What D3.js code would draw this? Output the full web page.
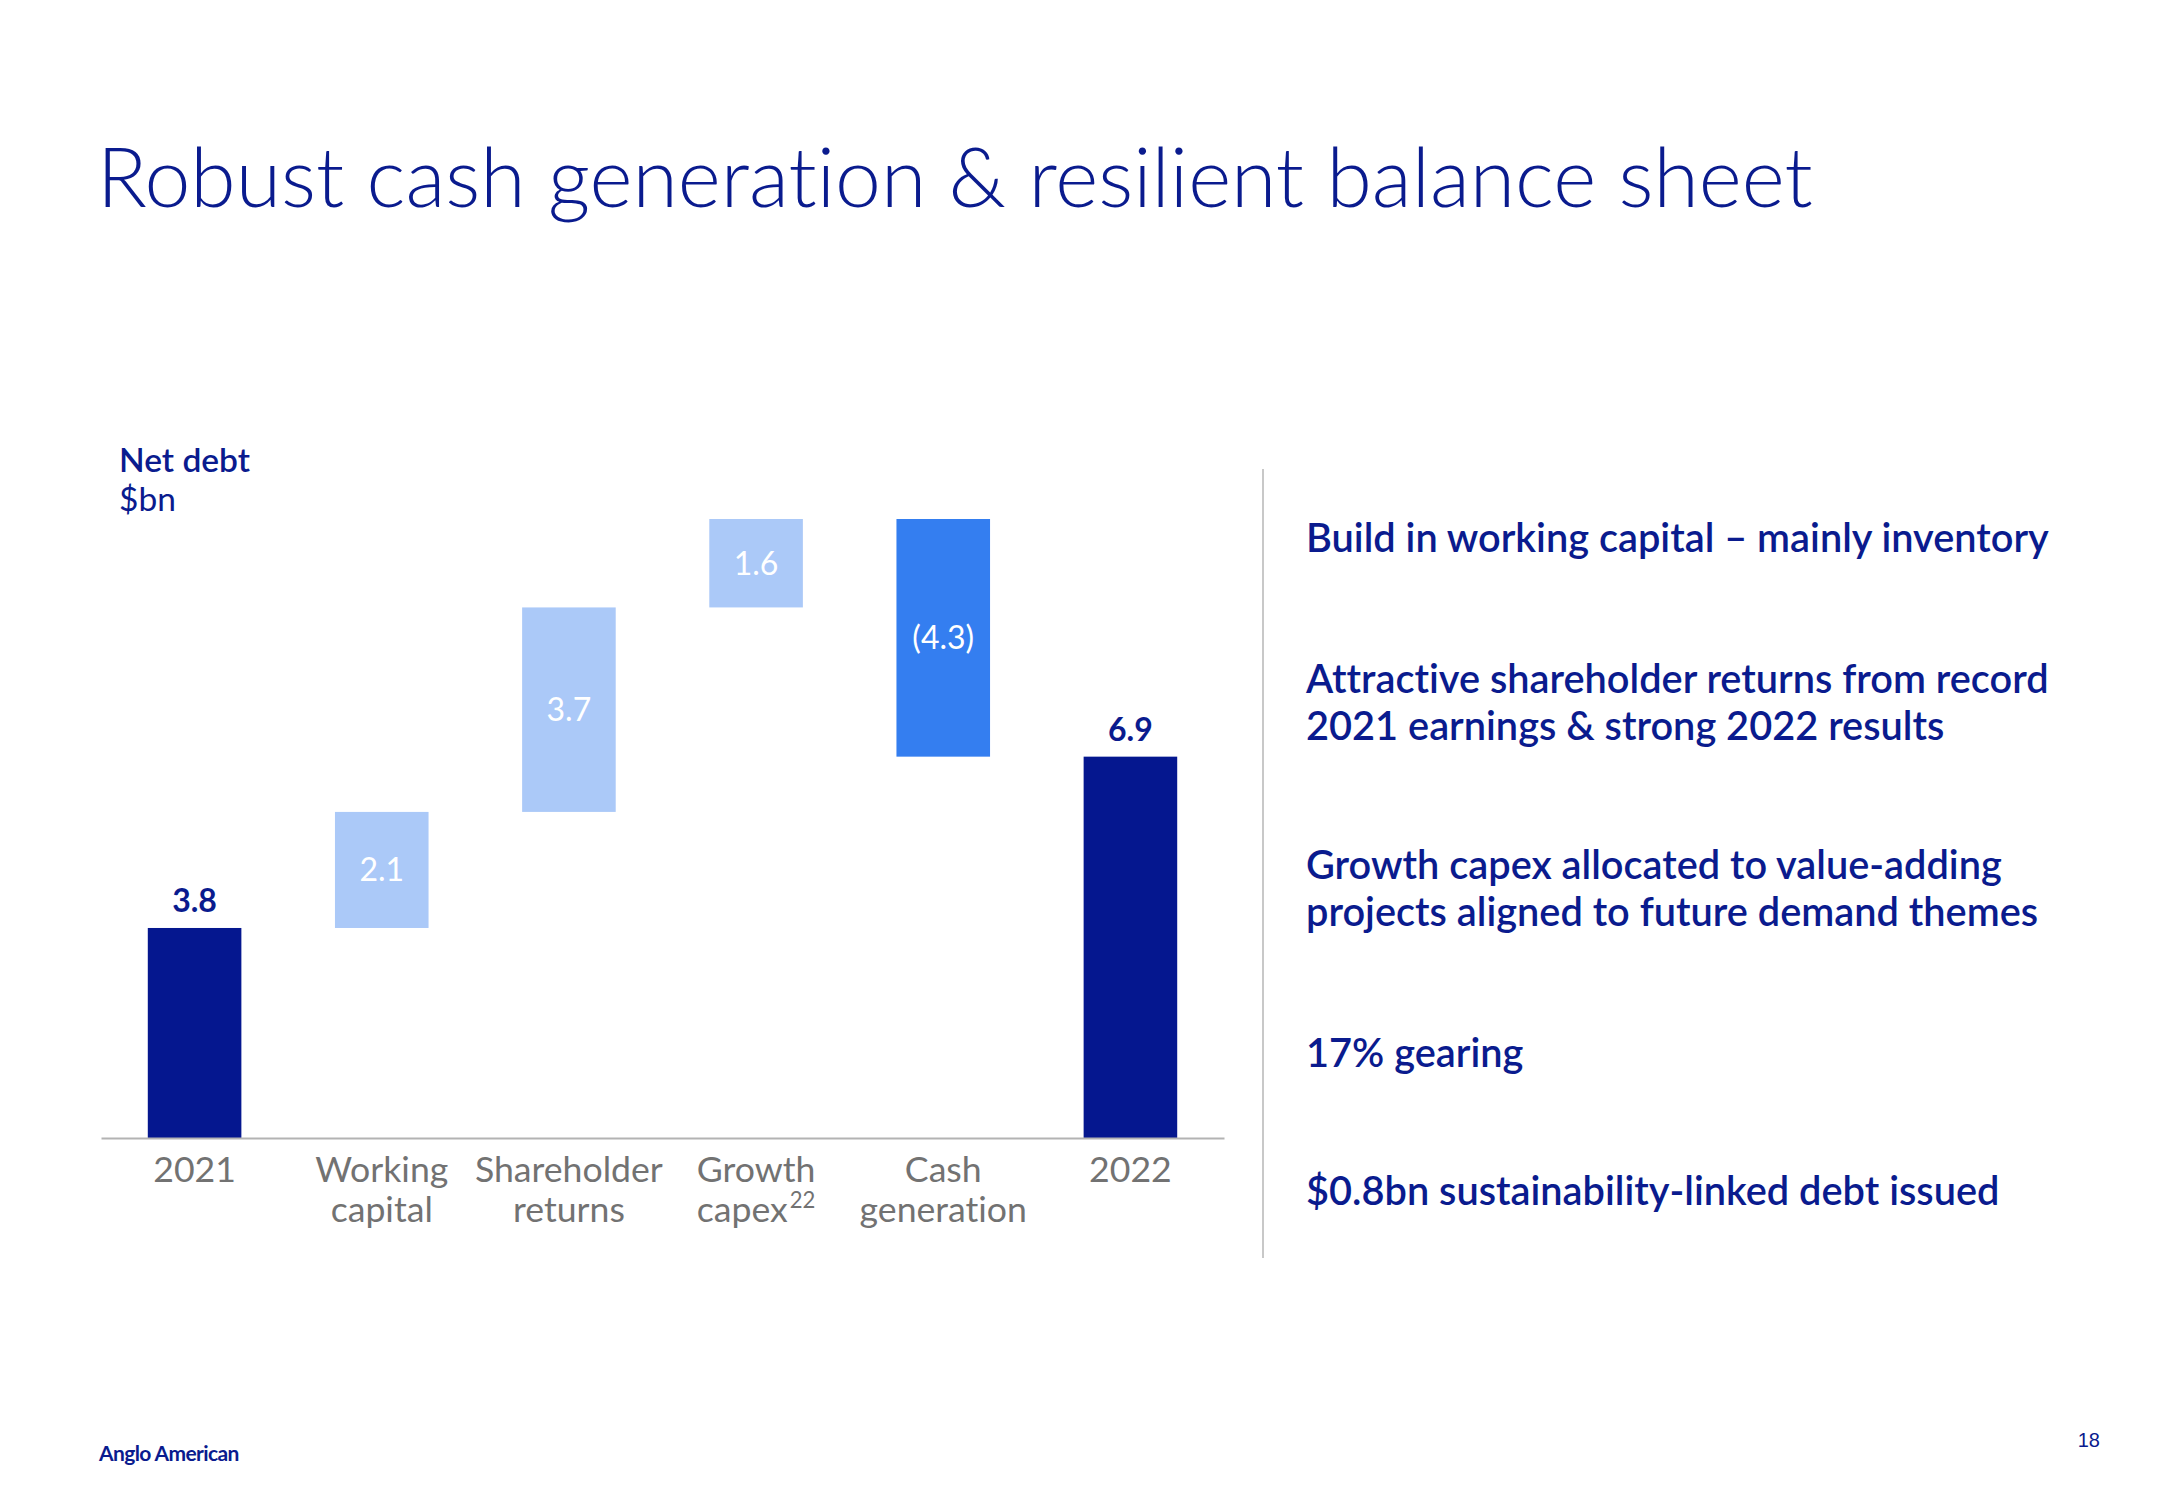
<!DOCTYPE html>
<html>
<head>
<meta charset="utf-8">
<script src="https://cdn.jsdelivr.net/npm/d3@7"></script>
<style>
  html, body { margin: 0; padding: 0; background: #ffffff; }
  svg { display: block; }
  svg text { font-variant-ligatures: none; font-feature-settings: "liga" 0, "clig" 0; }
</style>
</head>
<body>
<svg id="chart" width="2166" height="1500"></svg>
<script>
// ---------------- DATA ----------------
const categories = ["2021", "Working capital", "Shareholder returns", "Growth capex", "Cash generation", "2022"];
const labelLines = [["2021"], ["Working", "capital"], ["Shareholder", "returns"], ["Growth", "capex"], ["Cash", "generation"], ["2022"]];
const superscripts = ["", "", "", "22", "", ""];
const values = [3.8, 2.1, 3.7, 1.6, -4.3, 6.9];
const barTypes = ["total", "delta", "delta", "delta", "delta", "total"];
const valueLabels = ["3.8", "2.1", "3.7", "1.6", "(4.3)", "6.9"];

const titleText = "Robust cash generation & resilient balance sheet";
const axisTitle = ["Net debt", "$bn"];
const bullets = [
  ["Build in working capital \u2013 mainly inventory"],
  ["Attractive shareholder returns from record", "2021 earnings & strong 2022 results"],
  ["Growth capex allocated to value-adding", "projects aligned to future demand themes"],
  ["17% gearing"],
  ["$0.8bn sustainability-linked debt issued"]
];
const footerLogo = "Anglo American";
const pageNumber = "18";

// ---------------- STYLE ----------------
const NAVY = "#05178f";
const TEXT_NAVY = "#0a1b8e";
const LIGHT = "#abc9f8";
const BRIGHT = "#347ef0";
const GREY = "#727272";

const svg = d3.select("#chart");

function fit(sel, target) {
  const w = sel.node().getComputedTextLength();
  const fs = parseFloat(sel.attr("font-size"));
  const nf = fs * target / w;
  sel.attr("font-size", nf);
  return nf;
}

// Title
const title = svg.append("text")
  .attr("x", 97).attr("y", 207)
  .attr("font-family", "Lato, 'Open Sans', sans-serif")
  .attr("font-weight", 300)
  .attr("font-size", 80)
  .attr("fill", TEXT_NAVY)
  .text(titleText);
fit(title, 1716);

// Axis title
const at1 = svg.append("text")
  .attr("x", 119).attr("y", 472)
  .attr("font-family", "Lato, sans-serif")
  .attr("font-weight", 600)
  .attr("font-size", 30)
  .attr("fill", TEXT_NAVY)
  .text(axisTitle[0]);
const atSize = fit(at1, 131);
svg.append("text")
  .attr("x", 119).attr("y", 511)
  .attr("font-family", "Lato, sans-serif")
  .attr("font-weight", 400)
  .attr("font-size", atSize)
  .attr("fill", TEXT_NAVY)
  .text(axisTitle[1]);

// ---------------- WATERFALL ----------------
const data = [];
let running = 0;
values.forEach((v, i) => {
  let y0, y1;
  if (barTypes[i] === "total") { y0 = 0; y1 = v; running = v; }
  else { y0 = running; y1 = running + v; running = y1; }
  data.push({ cat: categories[i], v, y0, y1, type: barTypes[i], label: valueLabels[i], lines: labelLines[i], sup: superscripts[i] });
});

const axisY = 1138;
const x = d3.scaleBand()
  .domain(categories)
  .range([101, 1224])
  .paddingInner(0.5)
  .paddingOuter(0.25);

const maxTop = d3.max(data, d => Math.max(d.y0, d.y1));
const y = d3.scaleLinear().domain([0, maxTop]).range([axisY, 519]);

const colorOf = d => d.type === "total" ? NAVY : (d.v >= 0 ? LIGHT : BRIGHT);

svg.append("g").selectAll("rect")
  .data(data)
  .join("rect")
  .attr("x", d => x(d.cat))
  .attr("width", x.bandwidth())
  .attr("y", d => y(Math.max(d.y0, d.y1)))
  .attr("height", d => Math.abs(y(d.y0) - y(d.y1)))
  .attr("fill", colorOf);

// axis line via d3 axis (no ticks)
const axisG = svg.append("g")
  .attr("transform", `translate(0,${axisY})`)
  .call(d3.axisBottom(x).tickSize(0).tickFormat(""));
axisG.select(".domain").attr("stroke", "#b3b3b3").attr("stroke-width", 2);

// value labels
const vl = svg.append("g");
data.forEach(d => {
  const cx = x(d.cat) + x.bandwidth() / 2;
  if (d.type === "total") {
    vl.append("text")
      .attr("x", cx).attr("y", y(d.y1) - 16)
      .attr("text-anchor", "middle")
      .attr("font-family", "Lato, sans-serif")
      .attr("font-weight", 700)
      .attr("font-size", 32)
      .attr("fill", TEXT_NAVY)
      .text(d.label);
  } else {
    vl.append("text")
      .attr("x", cx).attr("y", (y(d.y0) + y(d.y1)) / 2)
      .attr("dy", "0.36em")
      .attr("text-anchor", "middle")
      .attr("font-family", "Lato, sans-serif")
      .attr("font-weight", 400)
      .attr("font-size", 32)
      .attr("fill", "#ffffff")
      .text(d.label);
  }
});

// category labels
const probe = svg.append("text")
  .attr("font-family", "Lato, sans-serif").attr("font-size", 30).text("Shareholder");
const catSize = fit(probe, 188);
probe.remove();

const cl = svg.append("g");
data.forEach(d => {
  const cx = x(d.cat) + x.bandwidth() / 2;
  d.lines.forEach((ln, j) => {
    const t = cl.append("text")
      .attr("x", cx).attr("y", 1182 + j * 40)
      .attr("text-anchor", "middle")
      .attr("font-family", "Lato, sans-serif")
      .attr("font-weight", 400)
      .attr("font-size", catSize)
      .attr("fill", GREY);
    t.append("tspan").text(ln);
    if (j === d.lines.length - 1 && d.sup) {
      t.append("tspan")
        .attr("font-size", catSize * 0.62)
        .attr("dy", -catSize * 0.38)
        .attr("dx", 2)
        .text(d.sup);
    }
  });
});

// divider
svg.append("line")
  .attr("x1", 1263).attr("x2", 1263)
  .attr("y1", 469).attr("y2", 1258)
  .attr("stroke", "#c8c8c8").attr("stroke-width", 2);

// bullets
const bulletTops = [552, 693, 879, 1067, 1205];
const bp = svg.append("text")
  .attr("font-family", "Lato, sans-serif").attr("font-weight", 600)
  .attr("font-size", 34).text(bullets[0][0]);
const bSize = fit(bp, 743);
bp.remove();
bullets.forEach((lines, i) => {
  lines.forEach((ln, j) => {
    svg.append("text")
      .attr("x", 1306).attr("y", bulletTops[i] + j * 47)
      .attr("font-family", "Lato, sans-serif")
      .attr("font-weight", 600)
      .attr("font-size", bSize)
      .attr("fill", TEXT_NAVY)
      .text(ln);
  });
});

// footer
const logo = svg.append("text")
  .attr("x", 99).attr("y", 1461)
  .attr("font-family", "Lato, sans-serif")
  .attr("font-weight", 700)
  .attr("font-size", 19)
  .attr("letter-spacing", -0.6)
  .attr("fill", TEXT_NAVY)
  .text(footerLogo);
fit(logo, 139);

svg.append("text")
  .attr("x", 2100).attr("y", 1447)
  .attr("text-anchor", "end")
  .attr("font-family", "'Liberation Sans Narrow', 'Liberation Sans', sans-serif")
  .attr("font-size", 20)
  .attr("fill", TEXT_NAVY)
  .text(pageNumber);
</script>
</body>
</html>
